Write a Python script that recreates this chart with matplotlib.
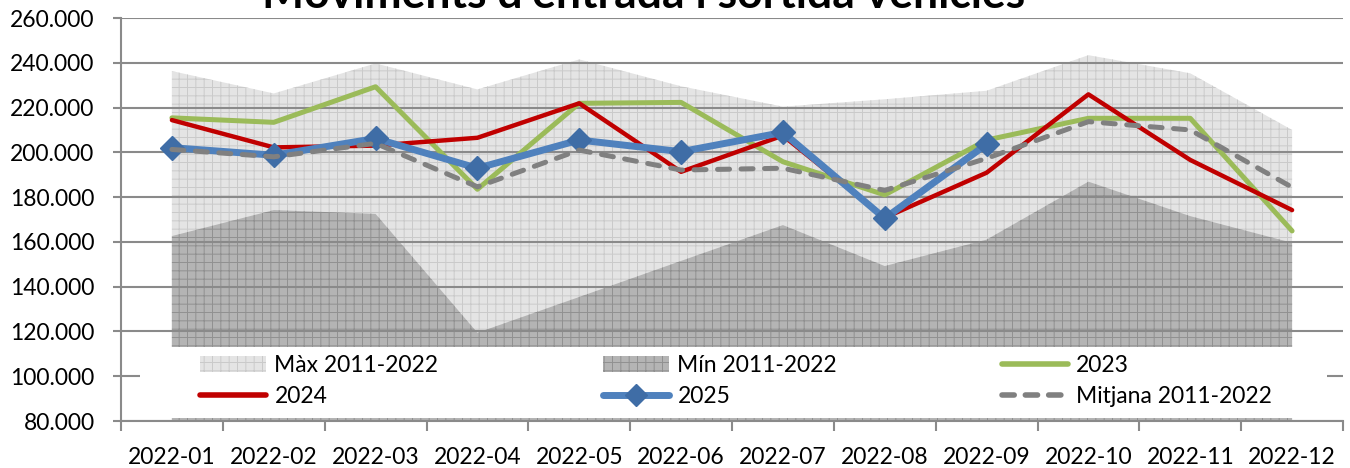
import numpy as np
import matplotlib
matplotlib.use('Agg')
import matplotlib.pyplot as plt
from matplotlib.patches import Patch, Rectangle
from matplotlib.lines import Line2D
from matplotlib.ticker import FuncFormatter, FixedLocator

plt.rcParams['font.family'] = ['Lato', 'DejaVu Sans']
plt.rcParams['hatch.linewidth'] = 0.7

# data
months = ['2022-01', '2022-02', '2022-03', '2022-04', '2022-05', '2022-06',
          '2022-07', '2022-08', '2022-09', '2022-10', '2022-11', '2022-12']
max_2011_2022 = [236300, 226300, 239700, 228100, 241500, 229500,
                 220400, 223700, 227500, 243400, 235300, 210000]
min_2011_2022 = [162600, 174200, 172500, 119400, 135400, 151500,
                 167500, 149200, 161000, 186900, 171500, 159600]
y2023 = [215400, 213400, 229300, 183500, 221900, 222300,
         195800, 181000, 205500, 215200, 215200, 164900]
y2024 = [214400, 202200, 203000, 206500, 221900, 191300,
         207500, 170800, 190900, 225900, 196600, 174200]
y2025 = [202100, 198700, 206200, 192900, 205500, 200300,
         208900, 170500, 203600]
mitjana = [201300, 198000, 204000, 184600, 201000, 192100,
           192900, 183000, 197300, 213700, 210000, 184400]

ymin, ymax = 80000, 260000
grid_col = '#8a8a8a'

fig = plt.figure(figsize=(13.5, 4.68), dpi=100)
ax = fig.add_axes([121/1350, 1-421/468, 1222/1350, 403/468])

x = np.arange(len(months))

# areas
ax.fill_between(x, ymin, max_2011_2022, facecolor='#e4e4e4', edgecolor='#cacaca',
                hatch='++', linewidth=0, zorder=1)
ax.fill_between(x, ymin, min_2011_2022, facecolor='#b4b4b4', edgecolor='#909090',
                hatch='++', linewidth=0, zorder=1.1)

# lines
ax.plot(x, y2023, color='#9bbb59', lw=3.6, solid_capstyle='round',
        solid_joinstyle='round', zorder=3)
ax.plot(x, y2024, color='#c00000', lw=3.2, solid_capstyle='round',
        solid_joinstyle='round', zorder=3.1)
ax.plot(x[:len(y2025)], y2025, color='#4f81bd', lw=5.0, marker='D', markersize=12,
        markerfacecolor='#3f6da6', markeredgecolor='#3f6da6',
        solid_capstyle='round', solid_joinstyle='round', zorder=3.2)
ax.plot(x, mitjana, color='#808080', lw=3.6, linestyle=(0, (2.4, 2.3)),
        dash_capstyle='round', zorder=3.3)

# axes styling
ax.set_xlim(-0.5, 11.5)
ax.set_ylim(ymin, ymax)
ax.set_yticks(np.arange(ymin, ymax + 1, 20000))
ax.yaxis.set_major_formatter(FuncFormatter(lambda v, p: f'{v:,.0f}'.replace(',', '.')))
ax.set_axisbelow('line')
ax.grid(axis='y', color=grid_col, linewidth=1.5)

ax.xaxis.set_major_locator(FixedLocator(np.arange(-0.5, 12, 1)))
ax.xaxis.set_minor_locator(FixedLocator(x))
ax.set_xticklabels([], minor=False)
ax.set_xticklabels(months, minor=True)
ax.tick_params(axis='x', which='major', length=7, width=1.5, color=grid_col, direction='out')
ax.tick_params(axis='x', which='minor', length=0, pad=19, labelsize=16.5)
ax.tick_params(axis='y', length=6, width=1.5, color=grid_col, direction='out', pad=13,
               labelsize=16.5)

for s in ['top', 'right']:
    ax.spines[s].set_visible(False)
for s in ['left', 'bottom']:
    ax.spines[s].set_color(grid_col)
    ax.spines[s].set_linewidth(1.5)

# white legend background inside plot area
ax.add_patch(Rectangle((19/1222, 3/403), 1187/1222, 71/403, transform=ax.transAxes,
                       facecolor='white', edgecolor='none', zorder=4))

handles = [
    Patch(facecolor='#e4e4e4', edgecolor='#cacaca', hatch='++', linewidth=0),
    Line2D([], [], color='#c00000', lw=4, solid_capstyle='round'),
    Patch(facecolor='#b4b4b4', edgecolor='#909090', hatch='++', linewidth=0),
    Line2D([], [], color='#4f81bd', lw=5, marker='D', markersize=11,
           markerfacecolor='#3f6da6', markeredgecolor='#3f6da6', solid_capstyle='round'),
    Line2D([], [], color='#9bbb59', lw=4, solid_capstyle='round'),
    Line2D([], [], color='#808080', lw=4, linestyle=(0, (2.2, 2.0)), dash_capstyle='round'),
]
labels = ['Màx 2011-2022', '2024', 'Mín 2011-2022', '2025', '2023', 'Mitjana 2011-2022']
leg = ax.legend(handles, labels, ncol=3, mode='expand', loc='center',
                bbox_to_anchor=(79/1222, 40/403, 1072/1222, 0.001),
                frameon=False, fontsize=16.5, handlelength=2.9, handletextpad=0.35,
                borderpad=0, borderaxespad=0, labelspacing=0.45)
leg.set_zorder(5)

# title sits partly above the top edge, as in the source image
fig.text(644/1350, 1-8/468, "Moviments d'entrada i sortida vehicles",
         ha='center', va='baseline', fontsize=32, fontweight='bold')

fig.savefig('out.png', dpi=100)
